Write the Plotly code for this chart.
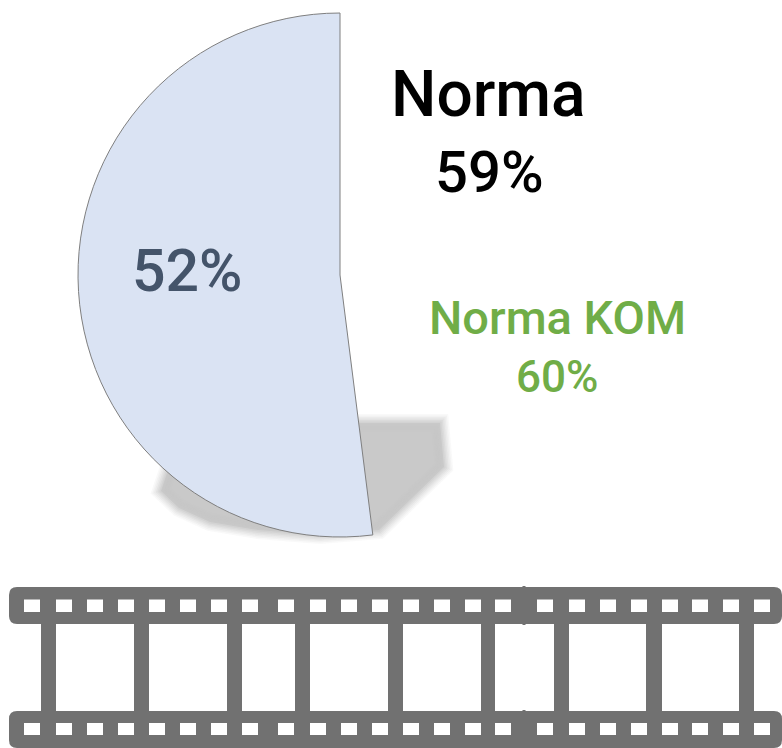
import plotly.graph_objects as go

W, H = 782, 748

# Data
slice_labels = ["Obtained", "Remainder"]
slice_values = [52, 48]
norm_title = "Norma"
norm_value = "59%"
kom_title = "Norma KOM"
kom_value = "60%"

FONT = "Roboto"
GREY = "#717171"
px = lambda v: v / W
py = lambda v: 1 - v / H


def rect(x0, y0, x1, y1, color, layer="below"):
    return dict(type="rect", xref="paper", yref="paper", x0=px(x0), x1=px(x1), y0=py(y1), y1=py(y0),
                fillcolor=color, line=dict(width=0), layer=layer)


def path_of(points):
    return "M " + " L ".join(f"{px(x):.5f},{py(y):.5f}" for x, y in points) + " Z"


shapes = []

# soft shadow beneath the pie: a filled outline, then stacked translucent strokes for the blur
shadow_outline = [(360, 423), (440, 423), (444, 467), (379, 530), (320, 535), (258, 530), (210, 522),
                  (179, 508), (161, 491), (168, 470), (200, 450), (300, 440)]
shapes.append(dict(type="path", xref="paper", yref="paper", path=path_of(shadow_outline),
                   fillcolor="#c9c9c9", line=dict(width=0), layer="below"))
for width, alpha in [(18, 0.1), (15, 0.12), (12, 0.16), (9, 0.22), (6, 0.3), (3, 0.45)]:
    shapes.append(dict(type="path", xref="paper", yref="paper", path=path_of(shadow_outline),
                       fillcolor="rgba(201,201,201,0)", line=dict(color=f"rgba(201,201,201,{alpha})", width=width),
                       layer="below"))


# film strip
def band(y0, y1):
    r = 8
    x0, x1 = 9, 782
    p = (f"M {px(x0+r):.5f},{py(y0):.5f} L {px(x1-r):.5f},{py(y0):.5f} "
         f"Q {px(x1):.5f},{py(y0):.5f} {px(x1):.5f},{py(y0+r):.5f} L {px(x1):.5f},{py(y1-r):.5f} "
         f"Q {px(x1):.5f},{py(y1):.5f} {px(x1-r):.5f},{py(y1):.5f} L {px(x0+r):.5f},{py(y1):.5f} "
         f"Q {px(x0):.5f},{py(y1):.5f} {px(x0):.5f},{py(y1-r):.5f} L {px(x0):.5f},{py(y0+r):.5f} "
         f"Q {px(x0):.5f},{py(y0):.5f} {px(x0+r):.5f},{py(y0):.5f} Z")
    return dict(type="path", xref="paper", yref="paper", path=p, fillcolor=GREY, line=dict(width=0), layer="below")


shapes += [band(587, 624), band(711, 748)]
for x0, x1 in [(41, 56), (134, 149), (227, 242), (295, 310), (388, 403), (481, 495), (554, 569), (646, 662), (739, 754)]:
    shapes.append(rect(x0, 620, x1, 715, GREY))
# small joins between the strip segments
for y0, y1 in [(586, 587), (624, 625), (710, 711)]:
    shapes.append(rect(522.5, y0, 525.5, y1, GREY))
hole_starts = [24, 56, 87, 118, 149, 180, 211, 242, 278, 310, 341, 372, 403, 434, 465, 495,
               537, 569, 600, 631, 662, 692, 723, 754]
for x in hole_starts:
    for y0, y1 in [(599.5, 612), (723, 735)]:
        shapes.append(rect(x, y0, x + 16, y1, "white"))

pie = go.Pie(
    labels=slice_labels, values=slice_values, textinfo="none", sort=False,
    direction="clockwise", rotation=-(slice_values[0] * 3.6), hoverinfo="skip", showlegend=False,
    marker=dict(colors=["#DAE3F3", "rgba(0,0,0,0)"], line=dict(color=["#7f7f7f", "rgba(0,0,0,0)"], width=[1, 0])),
    domain=dict(x=[px(78), px(602)], y=[py(537), py(13)]),
)


def note(text, x, y, size, color, weight=500):
    return dict(text=text, xref="paper", yref="paper", x=px(x), y=py(y), xanchor="center", yanchor="middle",
                showarrow=False, font=dict(family=FONT, size=size, color=color, weight=weight))


annotations = [
    note(f"{slice_values[0]}%", 187, 270, 59, "#44546A"),
    note(norm_title, 488, 95, 64, "#000000"),
    note(norm_value, 489, 172, 58, "#000000"),
    note(kom_title, 557, 318, 47, "#70AD47"),
    note(kom_value, 557, 377, 44, "#70AD47"),
]

fig = go.Figure(pie)
fig.update_layout(width=W, height=H, margin=dict(l=0, r=0, t=0, b=0), paper_bgcolor="white",
                  plot_bgcolor="white", shapes=shapes, annotations=annotations)
fig.write_html("out.html", post_script="document.body.style.margin='0';document.body.style.overflow='hidden';",
               config=dict(displayModeBar=False))
